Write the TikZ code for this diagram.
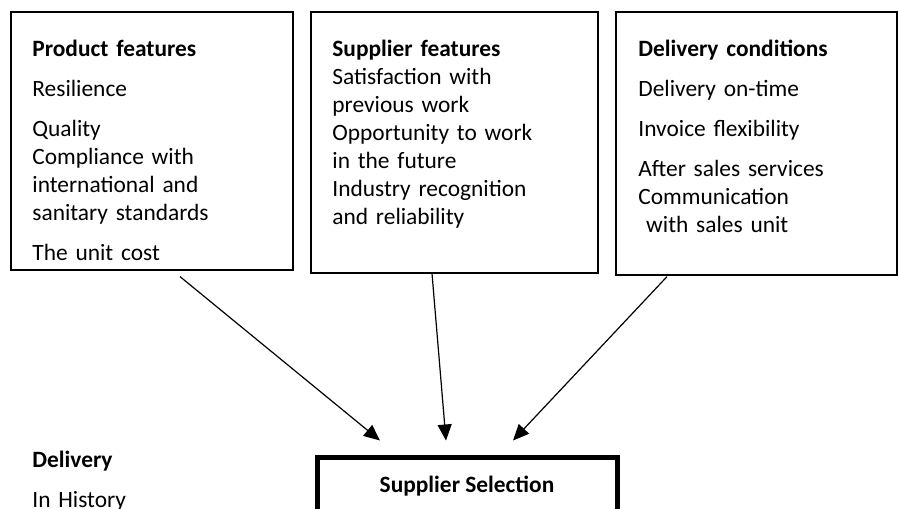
\documentclass[tikz,border=0pt]{standalone}
\usepackage{fontspec}
\setmainfont{Carlito}
\usepackage{tikz}
\usetikzlibrary{positioning,arrows.meta}

\begin{document}
\begin{tikzpicture}
  [
    x=0.5pt, y=-0.5pt,
    Box/.style={rectangle, draw=black, line width=0.6pt, inner sep=0pt},
    Words/.style={anchor=north west, inner sep=0pt, text width=130pt, align=left,
      font=\fontsize{11.7}{14}\selectfont\setlength{\parskip}{6pt}},
    Pick/.style={rectangle, draw=black, line width=2.5pt, minimum width=150pt,
      minimum height=29pt, font=\fontsize{11.7}{14}\selectfont\bfseries},
    Arrow/.style={-{Triangle[length=8pt,width=7pt]}, line width=0.6pt}
  ]
  \clip (0,0) rectangle (898,508);
  % Boxes
  \node[Box, minimum width=141pt, minimum height=129pt] (prodbox) at(152, 141) {};
  \node[Box, minimum width=143.5pt, minimum height=130.5pt] (suppbox) at(454.5, 142.5) {};
  \node[Box, minimum width=140.5pt, minimum height=131.5pt] (delivbox) at(756.5, 143.5) {};
  \node[Pick] (sel) at(467, 486) {Supplier Selection};

  % Texts
  \node[Words] (prodtext) at(32, 40) {\textbf{Product features}\par
    Resilience\par
    Quality\\Compliance with\\international and\\sanitary standards\par
    The unit cost};
  \node[Words] (supptext) at(332, 40) {\textbf{Supplier features}\\
    Satisfaction with\\previous work\\Opportunity to work\\in the future\\
    Industry recognition\\and reliability};
  \node[Words] (delivtext) at(638, 40) {\textbf{Delivery conditions}\par
    Delivery on-time\par
    Invoice flexibility\par
    After sales services\\Communication\\\ with sales unit};
  \node[Words] (hist) at(32, 451) {\textbf{Delivery}\par In History};

  % Lines
  \path [Arrow, draw] ([xshift=14pt, yshift=-3pt]prodbox.south) -- ([xshift=-43.5pt, yshift=7pt]sel.north);
  \path [Arrow, draw] ([xshift=-11.25pt]suppbox.south) -- ([xshift=-10.5pt, yshift=7pt]sel.north);
  \path [Arrow, draw] ([xshift=-44.75pt, yshift=-0.5pt]delivbox.south) -- ([xshift=23pt, yshift=7pt]sel.north);

\end{tikzpicture}
\end{document}
